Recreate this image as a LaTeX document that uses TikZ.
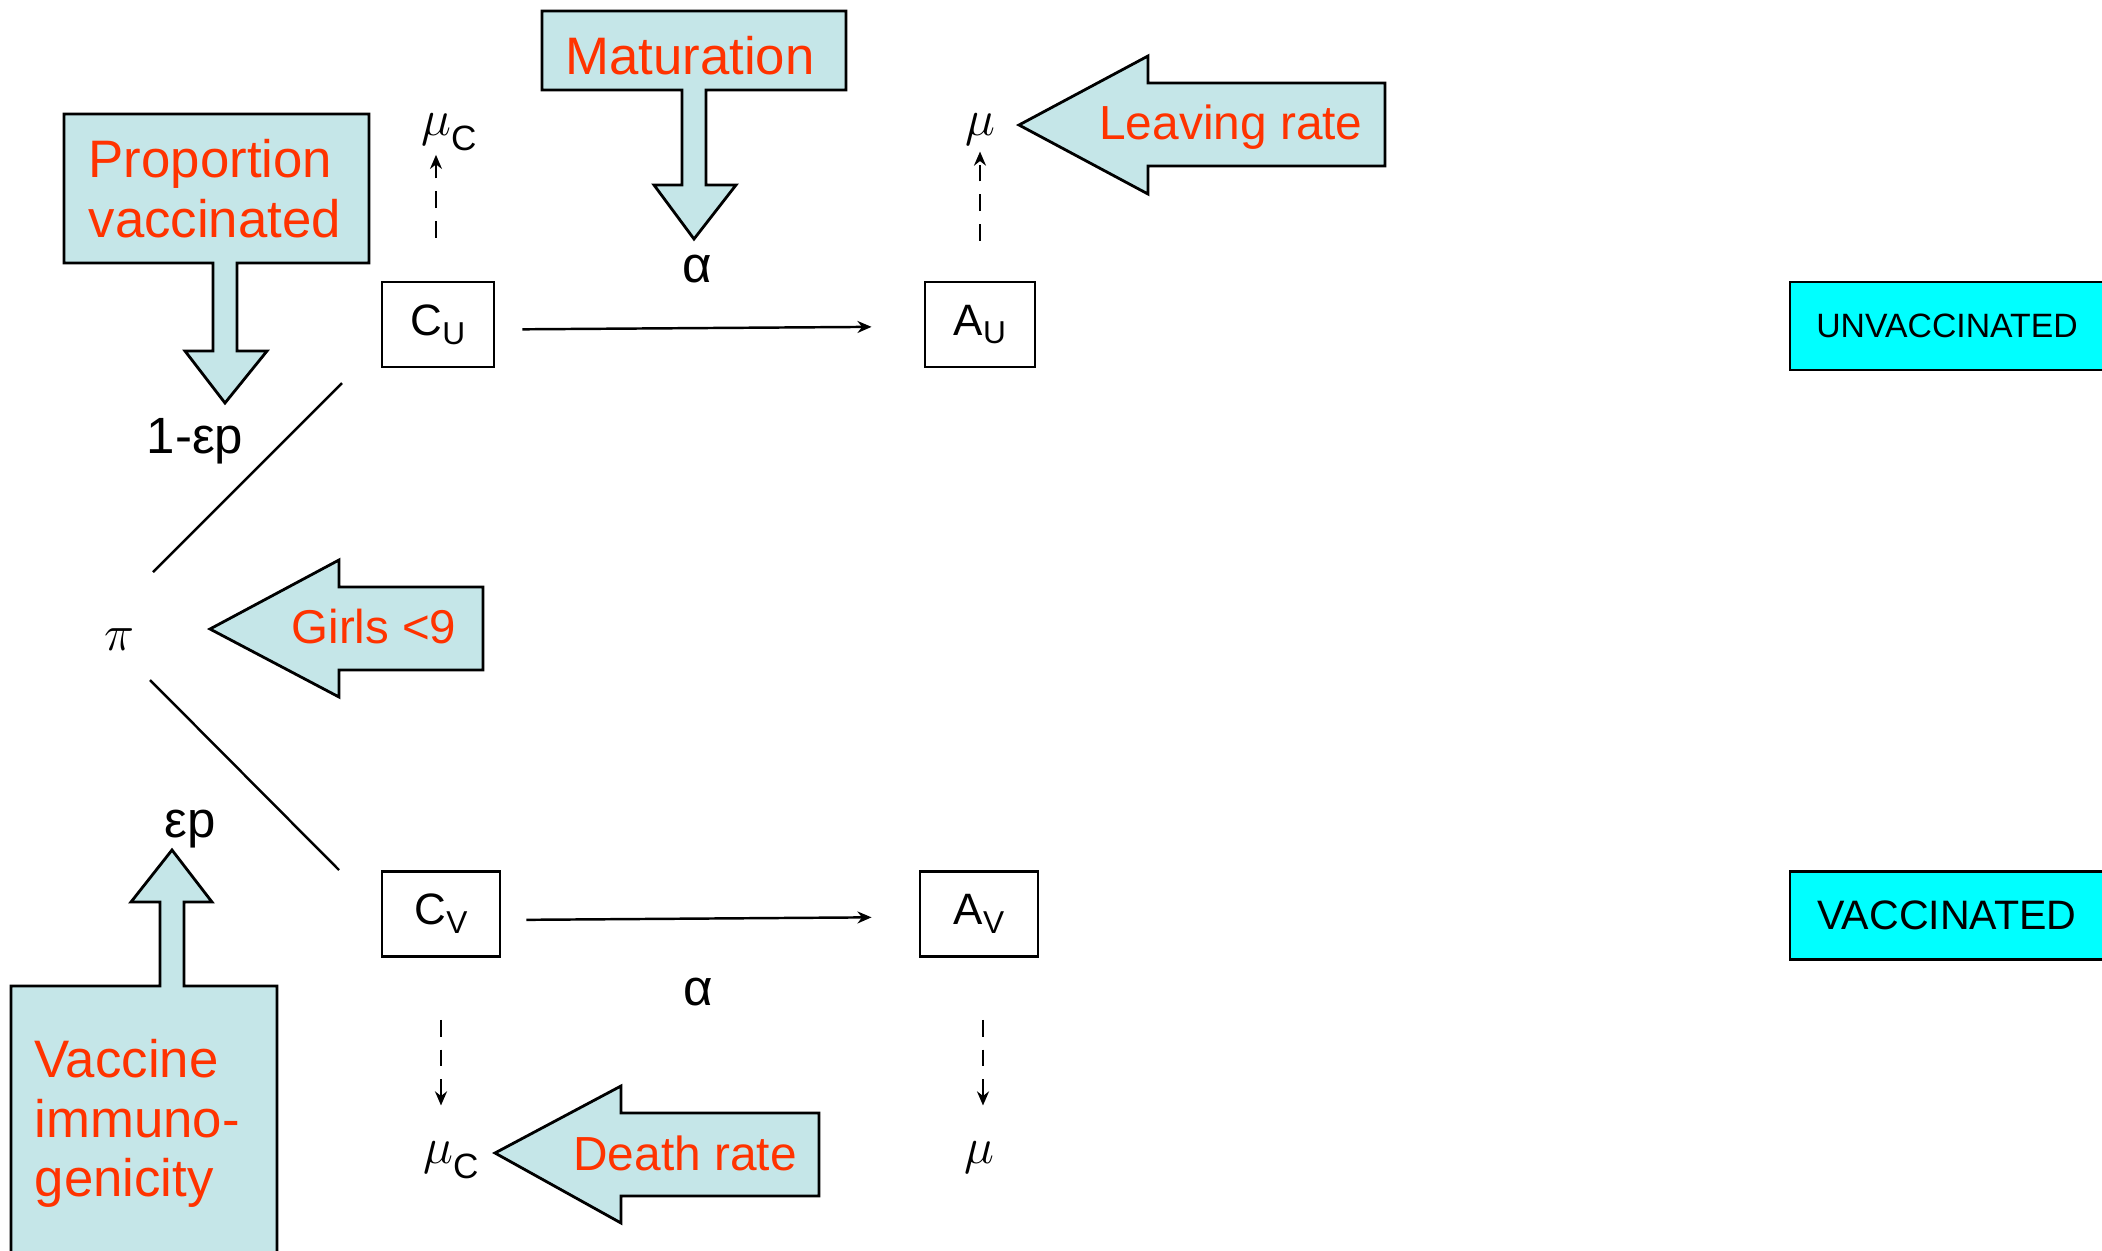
\documentclass[tikz,border=0pt]{standalone}
\usepackage{fontspec}
\setmainfont{Liberation Sans}
\usetikzlibrary{arrows.meta}
\definecolor{paleblue}{HTML}{C5E6E8}
\definecolor{notered}{HTML}{FF3300}
\definecolor{cohortcyan}{HTML}{00FFFF}
\newcommand{\lowidx}[3][9]{\raisebox{-#2}{\fontsize{#1}{#1}\selectfont #3}}
\tikzset{
  every picture/.style={line join=miter, >=Stealth},
  blockarrow/.style={draw, line width=0.8pt, fill=paleblue},
  comp/.style={draw, line width=0.8pt, minimum height=0.85cm, inner sep=0pt, font=\fontsize{12.5}{13}\selectfont},
  cohort/.style={draw, line width=0.8pt, fill=cohortcyan, minimum width=3.14cm, minimum height=0.88cm, inner sep=0pt},
  note/.style={text=notered, inner sep=0pt},
  rate/.style={inner sep=0pt, font=\fontsize{14.5}{16}\selectfont},
  sym/.style={inner sep=0pt, font=\fontsize{14}{16}\selectfont},
  flow/.style={line width=0.7pt, -{Stealth[length=4pt,width=3.4pt]}},
  loss/.style={flow, dash pattern=on 4.8pt off 3.6pt},
}
\begin{document}
\begin{tikzpicture}[x=0.01cm,y=-0.01cm]
\clip (0,0) rectangle (2102,1251);
% block arrows with their boxes
\draw[blockarrow] (64,114) -- (369,114) -- (369,263) -- (237,263) -- (237,351) -- (267,351)
  -- (225,403) -- (185,351) -- (213,351) -- (213,263) -- (64,263) -- cycle;
\draw[blockarrow] (542,11) -- (846,11) -- (846,90) -- (706,90) -- (706,185) -- (736,185)
  -- (694,239) -- (654,185) -- (682,185) -- (682,90) -- (542,90) -- cycle;
\draw[blockarrow] (11,1270) -- (11,986) -- (160,986) -- (160,902) -- (131,902) -- (172,850)
  -- (212,902) -- (184,902) -- (184,986) -- (277,986) -- (277,1270) -- cycle;
\draw[blockarrow] (1019,125) -- (1148,56) -- (1148,83) -- (1385,83) -- (1385,166) -- (1148,166) -- (1148,194) -- cycle;
\draw[blockarrow] (210,629) -- (339,560) -- (339,587) -- (483,587) -- (483,670) -- (339,670) -- (339,697) -- cycle;
\draw[blockarrow] (495,1153) -- (621,1086) -- (621,1113) -- (819,1113) -- (819,1196) -- (621,1196) -- (621,1223) -- cycle;

\node[note, font=\fontsize{15}{16.8}\selectfont, align=left, anchor=north west] (propnote) at (88,139) {Proportion\\vaccinated};
\node[note, font=\fontsize{15}{17}\selectfont, anchor=base] (matnote) at (690,74) {Maturation};
\node[note, font=\fontsize{13.6}{15}\selectfont, anchor=base] (leavenote) at (1231,139) {Leaving rate};
\node[note, font=\fontsize{13.5}{15}\selectfont, anchor=base] (girlnote) at (374,643) {Girls <9};
\node[note, font=\fontsize{13.6}{15}\selectfont, anchor=base] (deathnote) at (685,1170) {Death rate};
\node[note, font=\fontsize{15}{16.8}\selectfont, align=left, anchor=north west] (immnote) at (34,1039) {Vaccine\\immuno-\\genicity};

% compartments
\node[comp, minimum width=1.12cm] (CU) at (438,324.5) {C\lowidx{2.5pt}{U}};
\node[comp, minimum width=1.10cm] (AU) at (980,324.5) {A\lowidx{2.5pt}{U}};
\node[comp, minimum width=1.18cm] (CV) at (441,914) {C\lowidx{2.5pt}{V}};
\node[comp, minimum width=1.18cm] (AV) at (979,914) {A\lowidx{2.5pt}{V}};
\node[cohort, font=\fontsize{9.6}{11}\selectfont] (unvac) at (1947,326) {UNVACCINATED};
\node[cohort, font=\fontsize{11.7}{13}\selectfont] (vac) at (1947,915.5) {VACCINATED};

% rates
\node[sym] (pi) at (119,640) {$\pi$};
\node[rate, anchor=base] (omeps) at (195,453) {1-εp};
\node[rate, anchor=base] (eps) at (190,837) {εp};
\node[rate, anchor=base] (alphaU) at (697,282) {α};
\node[rate, anchor=base] (alphaV) at (698,1005) {α};
\node[sym, anchor=base] (muCU) at (449,135) {$\mu$\lowidx[10]{4.5pt}{C}};
\node[sym, anchor=base] (muAU) at (980,135) {$\mu$};
\node[sym, anchor=base] (muCV) at (451,1163) {$\mu$\lowidx[10]{4.5pt}{C}};
\node[sym, anchor=base] (muAV) at (979,1163) {$\mu$};

\coordinate (piup) at (153,572);
\coordinate (cuup) at (342,383);
\coordinate (pidown) at (150,680);
\coordinate (cvdown) at (339,870);
\draw[line width=0.7pt] (piup) -- (cuup);
\draw[line width=0.7pt] (pidown) -- (cvdown);

\draw[flow, shorten <=0.27cm, shorten >=0.52cm] ([yshift=-0.05cm]CU.east) -- ([yshift=-0.02cm]AU.west);
\draw[flow, shorten <=0.25cm, shorten >=0.47cm] ([yshift=-0.06cm]CV.east) -- ([yshift=-0.03cm]AV.west);

\draw[loss, shorten <=0.43cm, shorten >=0.03cm] ([xshift=-0.02cm]CU.north) -- ([xshift=-0.02cm]CU.north |- muCU.south);
\draw[loss, shorten <=0.40cm, shorten >=0.06cm] (AU.north) -- (AU.north |- muAU.south);
\draw[loss, shorten <=0.62cm, shorten >=0.35cm] (CV.south) -- (CV.south |- muCV.north);
\draw[loss, shorten <=0.62cm, shorten >=0.35cm] ([xshift=0.04cm]AV.south) -- ([xshift=0.04cm]AV.south |- muAV.north);
\end{tikzpicture}
\end{document}
